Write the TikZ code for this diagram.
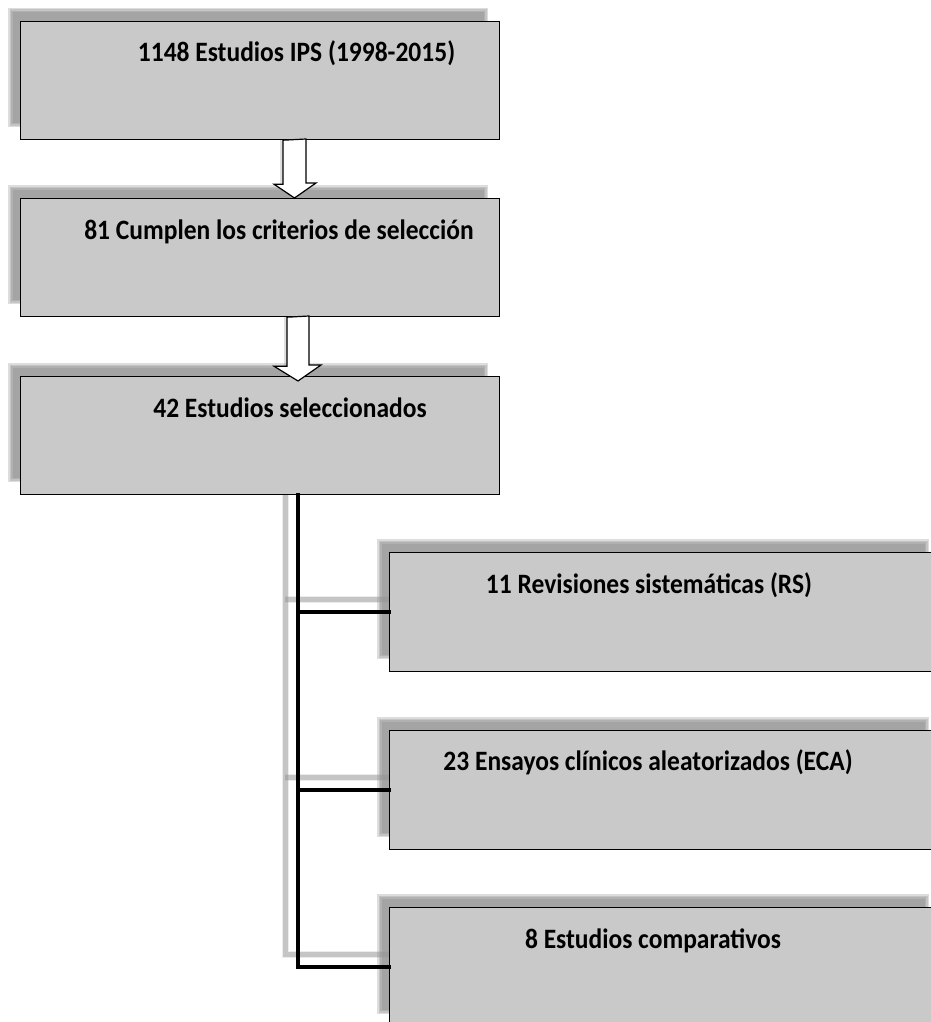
\documentclass[tikz,border=0pt]{standalone}
\usepackage{fontspec}
\setmainfont{Carlito}
\usetikzlibrary{backgrounds,calc}
\definecolor{boxgray}{RGB}{201,201,201}
\definecolor{shadowgray}{RGB}{128,128,128}
\definecolor{connshadow}{RGB}{150,150,150}
\begin{document}
\begin{tikzpicture}[x=1pt,y=-1pt,
  bigbox/.style={draw=black, line width=1.2pt, fill=boxgray, anchor=north west,
    minimum width=479pt, minimum height=118pt, inner sep=0pt},
  smallbox/.style={bigbox, minimum width=551pt, minimum height=119pt},
  boxtext/.style={anchor=base, inner sep=0pt, font=\bfseries\fontsize{25.5}{30}\selectfont},
  conn/.style={line width=3.6pt, black, line cap=rect},
  connsh/.style={line width=5pt, connshadow, opacity=0.45},
  blockarrow/.style={draw=black, line width=1.2pt, fill=white, line join=miter}]
\useasboundingbox (0,0) rectangle (930,1022);

\node[bigbox] (b1) at (20,21) {};
\node[bigbox] (b2) at (20,198) {};
\node[bigbox] (b3) at (20,376) {};
\node[smallbox] (b4) at (389,552) {};
\node[smallbox] (b5) at (389,730) {};
\node[smallbox] (b6) at (389,907) {};

\node[boxtext] (t1) at ($(b1.north west)+(276.5,41)$) {\scalebox{1}[1.1]{1148 Estudios IPS (1998-2015)}};
\node[boxtext] (t2) at ($(b2.north west)+(259,41)$) {\scalebox{1}[1.1]{81 Cumplen los criterios de selección}};
\node[boxtext] (t3) at ($(b3.north west)+(270,41)$) {\scalebox{1}[1.1]{42 Estudios seleccionados}};
\node[boxtext] (t4) at ($(b4.north west)+(260,41)$) {\scalebox{1}[1.1]{11 Revisiones sistemáticas (RS)}};
\node[boxtext] (t5) at ($(b5.north west)+(259,40)$) {\scalebox{1}[1.1]{23 Ensayos clínicos aleatorizados (ECA)}};
\node[boxtext] (t6) at ($(b6.north west)+(264,41)$) {\scalebox{1}[1.1]{8 Estudios comparativos}};

\coordinate (trunk) at (298,0);
\coordinate (trunksh) at (285,0);

\begin{scope}[on background layer]
  \foreach \b in {b1,b2,b3,b4,b5,b6} {
    \foreach \i in {0,1.5,3,4.5} {
      \fill[shadowgray, opacity=0.27]
        ([shift={(-12+\i,-13+\i)}]\b.north west) rectangle ([shift={(-12-\i,-13-\i)}]\b.south east);
    }
  }
  \draw[connsh, line width=7pt, opacity=0.18] (b3.south -| trunksh) |- ([yshift=13pt]b6.west);
  \draw[connsh] (b3.south -| trunksh) |- ([yshift=13pt]b6.west);
  \draw[connsh, line width=7pt, opacity=0.18] ([yshift=13pt]b4.west) -- ([yshift=13pt]b4.west -| trunksh);
  \draw[connsh] ([yshift=13pt]b4.west) -- ([yshift=13pt]b4.west -| trunksh);
  \draw[connsh, line width=7pt, opacity=0.18] ([yshift=13pt]b5.west) -- ([yshift=13pt]b5.west -| trunksh);
  \draw[connsh] ([yshift=13pt]b5.west) -- ([yshift=13pt]b5.west -| trunksh);
\end{scope}

\draw[conn] (b3.south -| trunk) |- (b6.west);
\draw[conn] (b4.west) -- (b4.west -| trunk);
\draw[conn] (b5.west) -- (b5.west -| trunk);

\coordinate (a1) at (294.5,0);
\coordinate (a2) at (298,0);
\fill[shadowgray, opacity=0.25] ($(b1.south -| a1)+(-15,0)$) rectangle ($(b1.south -| a1)+(-11.5,44)$);
\fill[shadowgray, opacity=0.25] ($(b2.south -| a2)+(-14.5,0)$) rectangle ($(b2.south -| a2)+(-11,49)$);
\draw[blockarrow] ($(b1.south -| a1)+(-11.5,0)$) -- ++(0,44) -- ++(-9,0)
  -- ($(b2.north -| a1)$) -- ++(21.5,-15) -- ++(-10,0) -- ++(0,-44) -- cycle;
\draw[blockarrow] ($(b2.south -| a2)+(-11,0)$) -- ++(0,49) -- ++(-13,0)
  -- ($(b3.north -| a2)+(0,5)$) -- ++(23,-16) -- ++(-12,0) -- ++(0,-49) -- cycle;
\end{tikzpicture}
\end{document}
